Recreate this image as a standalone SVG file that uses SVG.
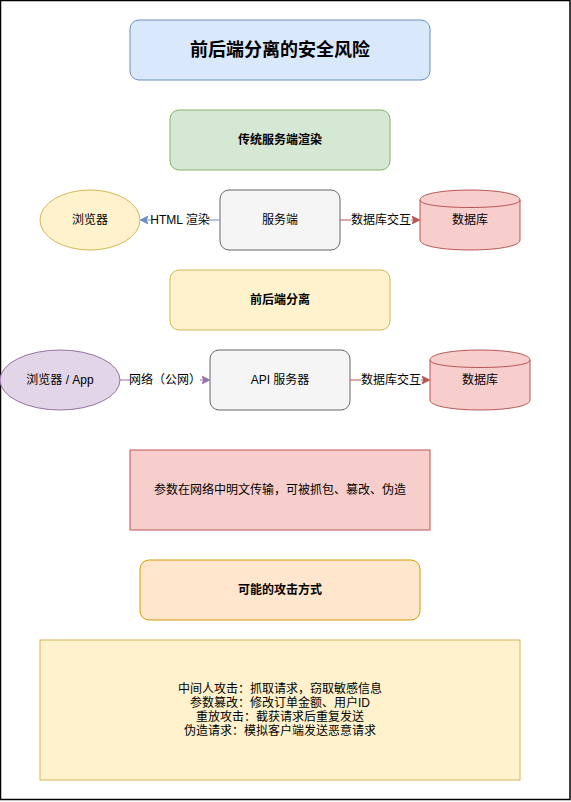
<svg xmlns="http://www.w3.org/2000/svg" width="571" height="802" viewBox="0 0 571 802">
<defs>
<style>
text{font-family:"Liberation Sans","Noto Sans CJK SC",sans-serif;font-size:12px;fill:#000;text-anchor:middle;dominant-baseline:central}
.b{font-weight:bold}
.lbl{fill:#fff}
</style>
<marker id="aBlue" viewBox="0 0 10 10" refX="9" refY="5" markerWidth="8" markerHeight="8" markerUnits="userSpaceOnUse" orient="auto"><path d="M0,0 L10,5 L0,10 L2.5,5 Z" fill="#6c8ebf" stroke="#6c8ebf"/></marker>
<marker id="aRed" viewBox="0 0 10 10" refX="9" refY="5" markerWidth="8" markerHeight="8" markerUnits="userSpaceOnUse" orient="auto"><path d="M0,0 L10,5 L0,10 L2.5,5 Z" fill="#b85450" stroke="#b85450"/></marker>
<marker id="aPurple" viewBox="0 0 10 10" refX="9" refY="5" markerWidth="8" markerHeight="8" markerUnits="userSpaceOnUse" orient="auto"><path d="M0,0 L10,5 L0,10 L2.5,5 Z" fill="#9673a6" stroke="#9673a6"/></marker>
</defs>
<rect x="0.5" y="0.5" width="569.5" height="799" fill="#fff" stroke="#000" stroke-width="1.5"/>

<g id="title"><rect x="130" y="20" width="300" height="60" rx="9" fill="#dae8fc" stroke="#6c8ebf"/><text x="280" y="50" class="b" style="font-size:18px">前后端分离的安全风险</text></g>
<g id="traditional"><rect x="170" y="110" width="220" height="60" rx="9" fill="#d5e8d4" stroke="#82b366"/><text x="280" y="140" class="b">传统服务端渲染</text></g>
<g id="browser1"><ellipse cx="90" cy="220" rx="50" ry="30" fill="#fff2cc" stroke="#d6b656"/><text x="90" y="220">浏览器</text></g>
<g id="server1"><rect x="220" y="190" width="120" height="60" rx="9" fill="#f5f5f5" stroke="#666666"/><text x="280" y="220">服务端</text></g>
<g id="db1"><path d="M420,200 C420,186.7 520,186.7 520,200 L520,240 C520,253.3 420,253.3 420,240 Z" fill="#f8cecc" stroke="#b85450"/><path d="M420,200 C420,210 520,210 520,200" fill="none" stroke="#b85450"/><text x="470" y="220">数据库</text></g>
<g id="separation"><rect x="170" y="270" width="220" height="60" rx="9" fill="#fff2cc" stroke="#d6b656"/><text x="280" y="300" class="b">前后端分离</text></g>
<g id="browser2"><ellipse cx="60" cy="380" rx="60" ry="30" fill="#e1d5e7" stroke="#9673a6"/><text x="60" y="380">浏览器 / App</text></g>
<g id="api"><rect x="210" y="350" width="140" height="60" rx="9" fill="#f5f5f5" stroke="#666666"/><text x="280" y="380">API 服务器</text></g>
<g id="db2"><path d="M430,360 C430,346.7 530,346.7 530,360 L530,400 C530,413.3 430,413.3 430,400 Z" fill="#f8cecc" stroke="#b85450"/><path d="M430,360 C430,370 530,370 530,360" fill="none" stroke="#b85450"/><text x="480" y="380">数据库</text></g>
<g id="risk"><rect x="130" y="450" width="300" height="80" fill="#f8cecc" stroke="#b85450"/><text x="280" y="490">参数在网络中明文传输，可被抓包、篡改、伪造</text></g>
<g id="attacks"><rect x="140" y="560" width="280" height="60" rx="9" fill="#ffe6cc" stroke="#d79b00"/><text x="280" y="590" class="b">可能的攻击方式</text></g>
<g id="attackList"><rect x="40" y="640" width="480" height="140" fill="#fff2cc" stroke="#d6b656"/>
<text x="280" y="689">中间人攻击：抓取请求，窃取敏感信息</text>
<text x="280" y="703">参数篡改：修改订单金额、用户ID</text>
<text x="280" y="717">重放攻击：截获请求后重复发送</text>
<text x="280" y="731">伪造请求：模拟客户端发送恶意请求</text></g>

<g id="connectors">
<line x1="220" y1="220" x2="141" y2="220" stroke="#6c8ebf" marker-end="url(#aBlue)"/>
<rect x="151" y="212" width="58" height="16" class="lbl"/><text x="180" y="220">HTML 渲染</text>
<line x1="340" y1="220" x2="419" y2="220" stroke="#b85450" marker-end="url(#aRed)"/>
<rect x="351" y="212" width="60" height="16" class="lbl"/><text x="381" y="220">数据库交互</text>
<line x1="120" y1="380" x2="209" y2="380" stroke="#9673a6" marker-end="url(#aPurple)"/>
<rect x="130" y="372" width="70" height="16" class="lbl"/><text x="165" y="380">网络（公网）</text>
<line x1="350" y1="380" x2="429" y2="380" stroke="#b85450" marker-end="url(#aRed)"/>
<rect x="361" y="372" width="60" height="16" class="lbl"/><text x="391" y="380">数据库交互</text>
</g>
</svg>
